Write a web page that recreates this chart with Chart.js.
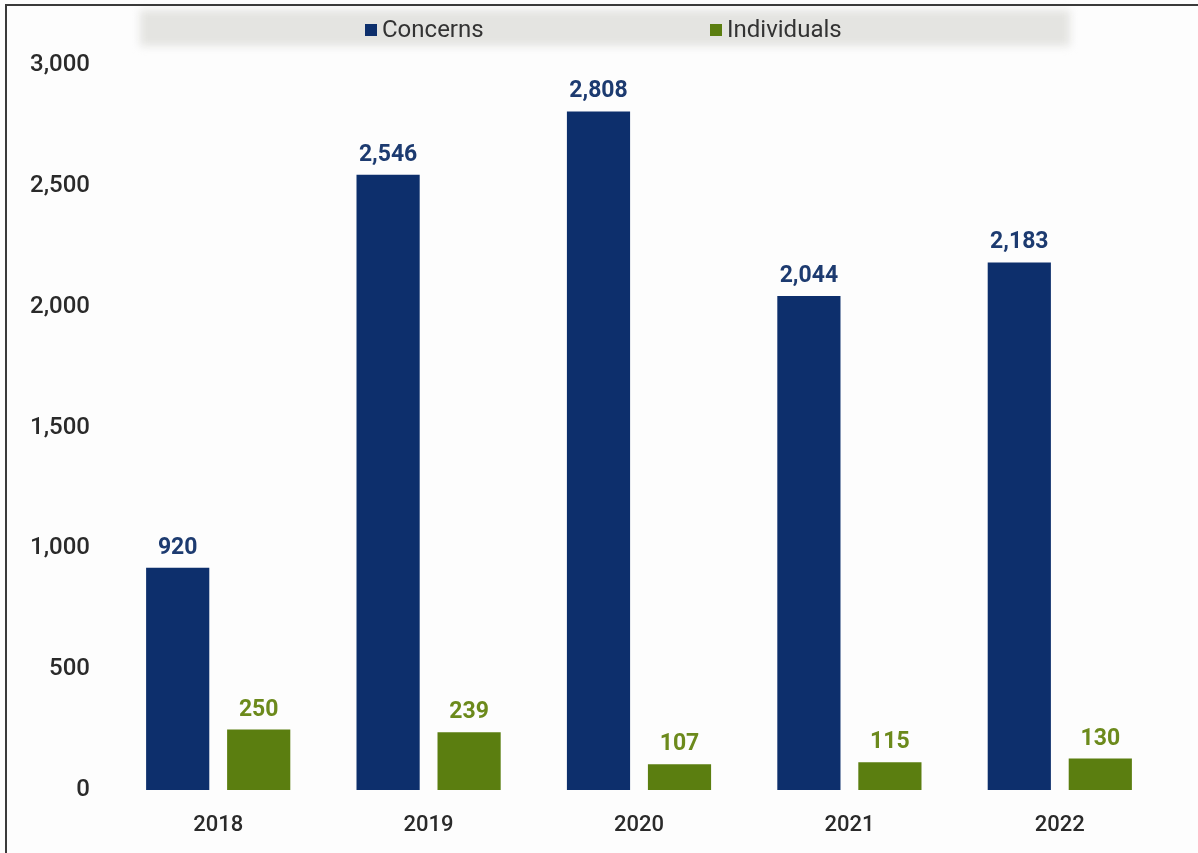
<!DOCTYPE html>
<html>
<head>
<meta charset="utf-8">
<script src="https://cdn.jsdelivr.net/npm/chart.js@4.4.0/dist/chart.umd.min.js"></script>
<style>
  html, body { margin: 0; padding: 0; background: #fdfdfd; }
  #wrap { position: relative; width: 1198px; height: 853px; }
  #frame {
    position: absolute; left: 5px; top: 4px; right: 0; bottom: 0;
    border-top: 2px solid #3a3a3a; border-left: 2px solid #3a3a3a;
    pointer-events: none;
  }
  canvas { position: absolute; left: 0; top: 0; }
</style>
</head>
<body>
<div id="wrap">
  <canvas id="chart" width="1198" height="853"></canvas>
  <div id="frame"></div>
</div>
<script>
const years = ['2018', '2019', '2020', '2021', '2022']
const concerns = [920, 2546, 2808, 2044, 2183]
const individuals = [250, 239, 107, 115, 130]
const yTicks = [0, 500, 1000, 1500, 2000, 2500, 3000]

const NAVY = '#0d2f6c'
const NAVY_TEXT = '#1d3b70'
const GREEN = '#5b7e10'
const GREEN_TEXT = '#6c8a1c'
const TEXT = '#2a2a2a'

Chart.defaults.font.family = 'Roboto'

// grey legend strip with the two series keys
const legendStrip = {
  id: 'legendStrip',
  beforeDraw (chart) {
    const c = chart.ctx
    c.save()
    c.filter = 'blur(4px)'
    c.fillStyle = '#e4e4e1'
    c.fillRect(140, 10, 930, 36)
    c.restore()

    const items = [
      { x: 365, ds: chart.data.datasets[0] },
      { x: 710, ds: chart.data.datasets[1] }
    ]
    c.save()
    c.font = '24px Roboto'
    c.textBaseline = 'middle'
    items.forEach(it => {
      c.fillStyle = it.ds.backgroundColor
      c.fillRect(it.x, 24, 12, 12)
      c.fillStyle = '#333'
      c.fillText(it.ds.label, it.x + 17, 31)
    })
    c.restore()
  }
}

// value labels above each bar
const barValues = {
  id: 'barValues',
  afterDatasetsDraw (chart) {
    const c = chart.ctx
    c.save()
    c.font = 'bold 23px Roboto'
    c.textAlign = 'center'
    c.textBaseline = 'alphabetic'
    chart.data.datasets.forEach((ds, i) => {
      c.fillStyle = ds.valueColor
      chart.getDatasetMeta(i).data.forEach((bar, j) => {
        c.fillText(ds.data[j].toLocaleString('en-US'), bar.x, bar.y - 14)
      })
    })
    c.restore()
  }
}

new Chart(document.getElementById('chart'), {
  type: 'bar',
  data: {
    labels: years,
    datasets: [
      {
        label: 'Concerns',
        data: concerns,
        backgroundColor: NAVY,
        valueColor: NAVY_TEXT,
        categoryPercentage: 0.77,
        barPercentage: 0.78
      },
      {
        label: 'Individuals',
        data: individuals,
        backgroundColor: GREEN,
        valueColor: GREEN_TEXT,
        categoryPercentage: 0.77,
        barPercentage: 0.78
      }
    ]
  },
  options: {
    responsive: false,
    animation: false,
    layout: { padding: { top: 65, right: 33, bottom: 0, left: 0 } },
    plugins: {
      legend: { display: false },
      tooltip: { enabled: false }
    },
    scales: {
      x: {
        grid: { display: false, drawTicks: false },
        border: { display: false },
        ticks: { color: TEXT, font: { size: 22, weight: '500' }, padding: 22 },
        afterFit: scale => { scale.height = 63 }
      },
      y: {
        min: 0,
        max: 3000,
        grid: { display: false, drawTicks: false },
        border: { display: false },
        afterBuildTicks: scale => {
          scale.ticks = yTicks.map(v => ({ value: v }))
        },
        ticks: {
          color: TEXT,
          font: { size: 24, weight: '500' },
          padding: 23,
          callback: v => v.toLocaleString('en-US')
        },
        afterFit: scale => { scale.width = 113 }
      }
    }
  },
  plugins: [legendStrip, barValues]
})
</script>
</body>
</html>
